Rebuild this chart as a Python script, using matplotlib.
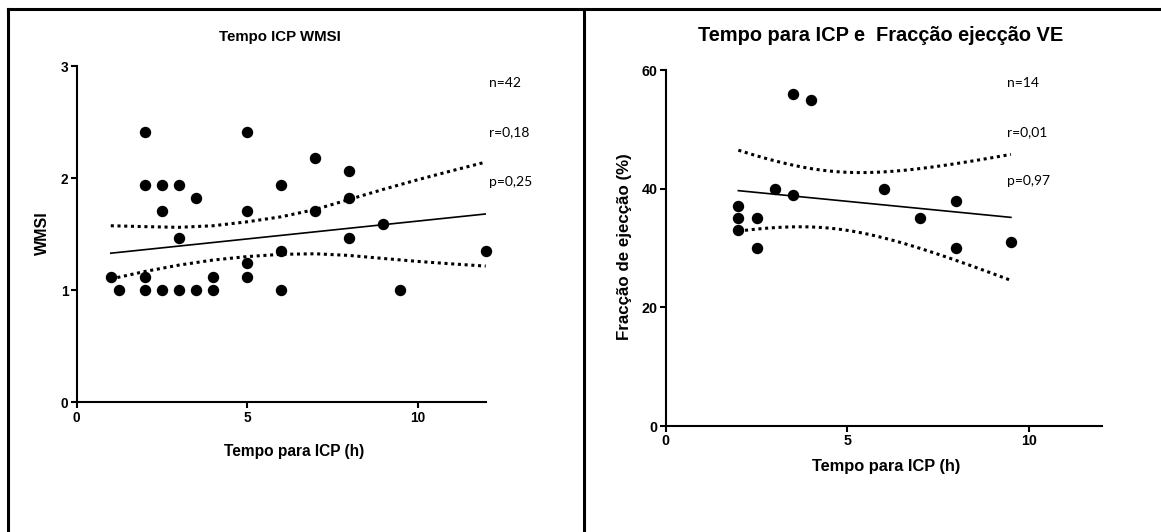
import numpy as np
import matplotlib
matplotlib.use("Agg")
import matplotlib.pyplot as plt
from matplotlib.lines import Line2D

plt.rcParams['font.family'] = ['Liberation Sans', 'DejaVu Sans']
plt.rcParams['font.weight'] = 'bold'

## dados - painel esquerdo (WMSI), n=42 mas varios pontos sobrepostos
tempo_wmsi = [1, 1.25, 2, 2, 2, 2, 2.5, 2.5, 2.5, 3, 3, 3, 3.5, 3.5, 4, 4,
              5, 5, 5, 5, 6, 6, 6, 7, 7, 8, 8, 8, 9, 9.5, 12]
wmsi = [1.12, 1.0, 2.41, 1.94, 1.12, 1.0, 1.94, 1.71, 1.0, 1.94, 1.47, 1.0, 1.82, 1.0, 1.12, 1.0,
        2.41, 1.71, 1.24, 1.12, 1.94, 1.35, 1.0, 2.18, 1.71, 2.06, 1.82, 1.47, 1.59, 1.0, 1.35]
# recta de regressao e banda 95% (pontos escondidos)
reg_x = [1, 12]
reg_y = [1.33, 1.68]
banda_x = [1, 2, 3, 4, 5, 6, 7, 8, 9, 10, 11, 12]
banda_sup = [1.575, 1.567, 1.561, 1.575, 1.61, 1.655, 1.72, 1.81, 1.90, 1.985, 2.065, 2.143]
banda_inf = [1.10, 1.167, 1.224, 1.269, 1.30, 1.32, 1.325, 1.31, 1.283, 1.257, 1.235, 1.215]
texto_esq = ["n=42", "r=0,18", "p=0,25"]

## dados - painel direito (fraccao de ejeccao), n=14
tempo_fe = [2, 2, 2, 2.5, 2.5, 3, 3.5, 3.5, 4, 6, 7, 8, 8, 9.5]
fe = [37, 35, 33, 35, 30, 40, 56, 39, 55, 40, 35, 38, 30, 31]
t_crit_fe = 2.179  # t(0.975, df=12)
texto_dir = ["n=14", "r=0,01", "p=0,97"]


def reg_lin_banda(x, y, t):
    x = np.array(x, dtype=float)
    y = np.array(y, dtype=float)
    n = len(x)
    p = np.polyfit(x, y, 1)
    res = y - np.polyval(p, x)
    s = np.sqrt(np.sum(res**2)/(n-2))
    xs = np.linspace(x.min(), x.max(), 100)
    ys = np.polyval(p, xs)
    w = t*s*np.sqrt(1/n + (xs-x.mean())**2/np.sum((x-x.mean())**2))
    return xs, ys, ys-w, ys+w


W, H = 1161, 532
fig = plt.figure(figsize=(W/100, H/100), dpi=100)


def eixo(px_esq, px_dir, px_topo, px_base):
    return fig.add_axes([px_esq/W, 1-px_base/H, (px_dir-px_esq)/W, (px_base-px_topo)/H])


def estilo(ax, tam):
    for s in ['top', 'right']:
        ax.spines[s].set_visible(False)
    for s in ['left', 'bottom']:
        ax.spines[s].set_linewidth(1.5)
    ax.tick_params(width=1.5, length=4, labelsize=tam, pad=2)
    for lab in ax.get_xticklabels() + ax.get_yticklabels():
        lab.set_fontweight('bold')


pontilhado = dict(color='black', lw=2.2, linestyle=(0, (1, 1.2)))

# painel esquerdo
ax1 = eixo(76.7, 485.7, 66, 402.3)
ax1.plot(tempo_wmsi, wmsi, 'o', color='black', ms=7.2, zorder=3, clip_on=False)
ax1.plot(reg_x, reg_y, color='black', lw=1.2)
ax1.plot(banda_x, banda_sup, **pontilhado)
ax1.plot(banda_x, banda_inf, **pontilhado)
ax1.set_xlim(0, 12)
ax1.set_ylim(0, 3)
ax1.set_xticks([0, 5, 10])
ax1.set_yticks([0, 1, 2, 3])
estilo(ax1, 9.8)
ax1.set_xlabel("Tempo para ICP (h)", fontsize=11.2, fontweight='bold', va='center')
ax1.xaxis.set_label_coords(0.531, -0.147)
ax1.set_ylabel("WMSI", fontsize=11.5, fontweight='bold', va='center')
ax1.yaxis.set_label_coords(-0.084, 0.503)
ax1.text(0.497, 1.085, "Tempo ICP WMSI", transform=ax1.transAxes, ha='center', va='center',
         fontsize=10.8, fontweight='bold')

# painel direito
ax2 = eixo(665.7, 1101.7, 70, 426)
xs, ys, lo, hi = reg_lin_banda(tempo_fe, fe, t_crit_fe)
ax2.plot(tempo_fe, fe, 'o', color='black', ms=7.2, zorder=3, clip_on=False)
ax2.plot(xs, ys, color='black', lw=1.2)
ax2.plot(xs, hi, **pontilhado)
ax2.plot(xs, lo, **pontilhado)
ax2.set_xlim(0, 12)
ax2.set_ylim(0, 60)
ax2.set_xticks([0, 5, 10])
ax2.set_yticks([0, 20, 40, 60])
estilo(ax2, 10.3)
ax2.set_xlabel("Tempo para ICP (h)", fontsize=11.8, fontweight='bold', va='center')
ax2.xaxis.set_label_coords(0.505, -0.114)
ax2.set_ylabel("Fracção de ejecção (%)", fontsize=12.2, fontweight='bold', va='center')
ax2.yaxis.set_label_coords(-0.0956, 0.503)
ax2.text(0.494, 1.098, "Tempo para ICP e  Fracção ejecção VE", transform=ax2.transAxes,
         ha='center', va='center', fontsize=14.4, fontweight='bold')

# anotacoes n, r, p
for i, t in enumerate(texto_esq):
    fig.text(489/W, 1-(83+49.5*i)/H, t, ha='left', va='center', fontsize=10,
             fontweight='normal', family=['Lato', 'DejaVu Sans'])
for i, t in enumerate(texto_dir):
    fig.text(1007/W, 1-(83+49*i)/H, t, ha='left', va='center', fontsize=10,
             fontweight='normal', family=['Lato', 'DejaVu Sans'])

# moldura
yt = 1-9/H
fig.add_artist(Line2D([8/W, 1], [yt, yt], color='black', lw=2.2))
fig.add_artist(Line2D([8/W, 8/W], [0, yt], color='black', lw=2.2))
fig.add_artist(Line2D([584/W, 584/W], [0, yt], color='black', lw=2.2))

fig.savefig("out.png", dpi=100)
